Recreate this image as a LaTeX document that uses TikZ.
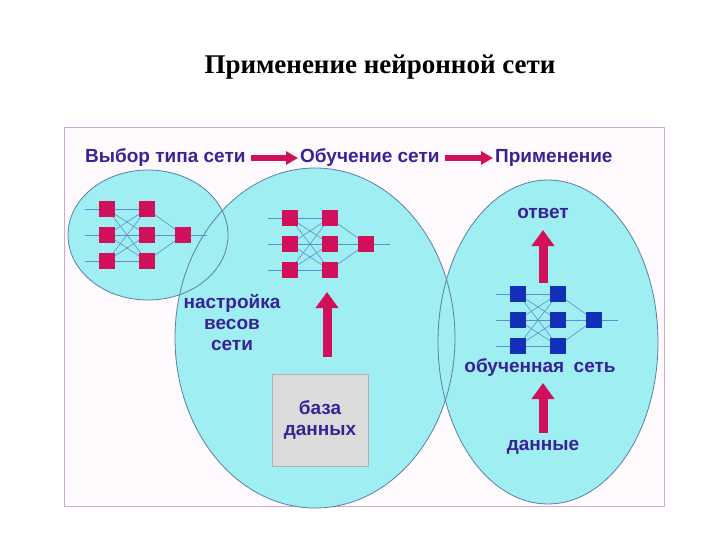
\documentclass[tikz,border=0pt]{standalone}
\usepackage{fontspec}
\setmainfont{Liberation Serif}
\newfontfamily\hdr{Liberation Sans}
\usetikzlibrary{arrows.meta}
\definecolor{cyanf}{HTML}{9EEEF2}
\definecolor{edge}{HTML}{5A7FA8}
\definecolor{mag}{HTML}{D0105A}
\definecolor{txtb}{HTML}{3A2296}
\definecolor{blu}{HTML}{1530B8}
\definecolor{wline}{HTML}{5A8FD0}
\tikzset{
 ell/.style={fill=cyanf},
 ellb/.style={draw=edge,line width=0.8pt},
 neur/.style={minimum size=16pt,inner sep=0pt,fill=mag},
 neurb/.style={minimum size=16pt,inner sep=0pt,fill=blu},
 wire/.style={draw=wline,line width=0.6pt},
 lab/.style={font=\hdr\bfseries\fontsize{19}{21}\selectfont,text=txtb,align=center},
 bigarrow/.style={draw=mag,line width=9pt,-{Triangle[width=22pt,length=16pt]}},
 hdrarrow/.style={draw=mag,line width=6pt,-{Triangle[width=13pt,length=12pt]}}
}
\begin{document}
\begin{tikzpicture}[x=1pt,y=-1pt]
\useasboundingbox (0,0) rectangle (720,540);
\fill[white] (0,0) rectangle (720,540);
\node[font=\bfseries\fontsize{27}{30}\selectfont] (title) at (380,67) {Применение нейронной сети};
\draw[draw=violet!35,fill=magenta!2,line width=1pt] (64,128) rectangle (664,506);
% ellipses
\fill[ell] (148,235) ellipse (80 and 65);
\fill[ell] (548,342) ellipse (110 and 162);
\fill[ell] (315,338) ellipse (140 and 170);
\draw[ellb] (148,235) ellipse (80 and 65);
\draw[ellb] (548,342) ellipse (110 and 162);
\draw[ellb] (315,338) ellipse (140 and 170);
% header
\node[lab,anchor=west,inner sep=0pt] (h1) at (85,158) {Выбор типа сети};
\node[lab,anchor=west,inner sep=0pt] (h2) at (300,158) {Обучение сети};
\node[lab,anchor=west,inner sep=0pt] (h3) at (495,158) {Применение};
\draw[hdrarrow] ([xshift=5]h1.east) -- ([xshift=-2]h2.west);
\draw[hdrarrow] ([xshift=5]h2.east) -- ([xshift=-2]h3.west);
% networks
\foreach \pre/\x/\y/\st/\xs in {p/107/235/neur/85, q/290/244/neur/268, r/518/320/neurb/496}{
  \foreach \r [count=\i] in {-26,0,26}{
    \draw[wire] (\xs,\y+\r) -- (\x+40,\y+\r);
  }
  \draw[wire] (\x+76,\y) -- (\x+100,\y);
  \foreach \i in {-26,0,26}{
    \foreach \j in {-26,0,26}{ \draw[wire] (\x,\y+\i) -- (\x+40,\y+\j); }
    \draw[wire] (\x+40,\y+\i) -- (\x+76,\y);
  }
  \foreach \r [count=\i] in {-26,0,26}{
    \node[\st] (\pre a\i) at (\x,\y+\r) {};
    \node[\st] (\pre b\i) at (\x+40,\y+\r) {};
  }
  \node[\st] (\pre c) at (\x+76,\y) {};
}
% middle
\node[lab,align=center] (nast) at (232,323) {настройка\\весов\\сети};
\coordinate (m1) at (327,357); \coordinate (m2) at (327,292);
\draw[bigarrow] (m1) -- (m2);
\node[draw=gray!60,fill=gray!28,minimum width=96pt,minimum height=92pt,lab,text=txtb] (db) at (320,420) {база\\данных};
% right
\node[lab] (otv) at (543,213) {ответ};
\node[lab] (obs) at (540,368) {обученная\hspace{0.5em}сеть};
\node[lab] (dan) at (543,447) {данные};
\coordinate (r1) at (543,283); \coordinate (r2) at (543,230);
\draw[bigarrow] (r1) -- (r2);
\coordinate (r3) at (543,433); \coordinate (r4) at (543,383);
\draw[bigarrow] (r3) -- (r4);
\end{tikzpicture}
\end{document}
